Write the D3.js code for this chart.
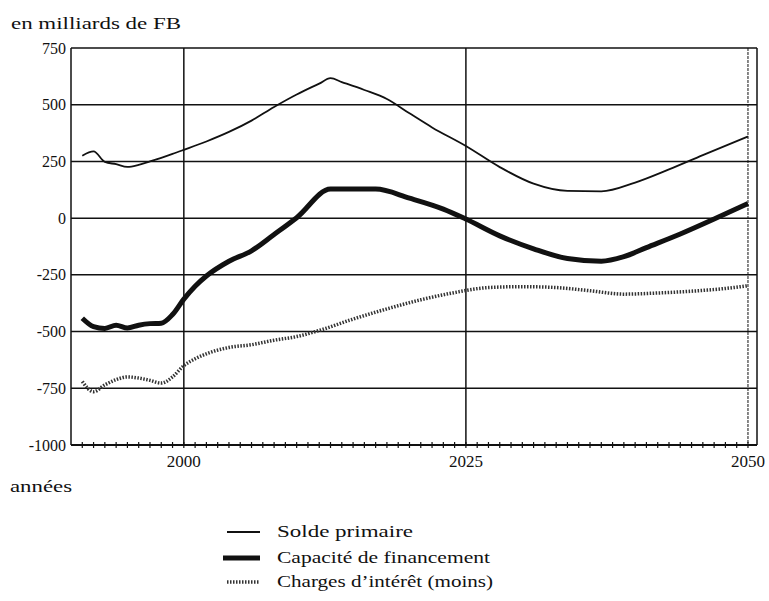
<!DOCTYPE html>
<html><head><meta charset="utf-8">
<script src="https://cdn.jsdelivr.net/npm/d3@7"></script>
<style>body{margin:0;background:#fff}svg{display:block}text{fill:#111}</style>
</head><body>
<script>
const yTicks = [-1000, -750, -500, -250, 0, 250, 500, 750];
const xLabels = [2000, 2025, 2050];
const seriesNames = ["Solde primaire", "Capacité de financement", "Charges d\u2019intérêt (moins)"];

const soldeYears  = [1991,1992,1993,1994,1995,1996,1997,1998,1999,2000,2002,2004,2006,2008,2010,2012,2013,2014,2016,2018,2020,2022,2025,2028,2031,2034,2037,2040,2043,2046,2050];
const soldeValues = [275,294,248,238,226,235,250,266,283,301,338,380,430,490,545,593,617,600,565,525,462,400,318,225,152,120,118,157,215,278,360];

const capYears  = [1991,1992,1993,1994,1995,1996,1997,1998,1999,2000,2001,2002,2004,2006,2008,2010,2013,2017,2020,2023,2025,2028,2031,2034,2037,2039,2041,2044,2047,2050];
const capValues = [-441,-478,-486,-472,-484,-472,-465,-463,-425,-357,-300,-255,-190,-144,-72,2,128,128,88,40,-4,-78,-135,-178,-190,-170,-130,-70,-4,65];

const intYears  = [1991,1992,1993,1994,1995,1996,1997,1998,1999,2000,2001,2002,2004,2006,2008,2010,2012,2015,2018,2021,2024,2027,2030,2033,2036,2039,2042,2045,2048,2050];
const intValues = [-720,-765,-735,-712,-700,-705,-715,-727,-700,-650,-620,-598,-570,-558,-538,-522,-495,-445,-400,-360,-328,-306,-302,-306,-320,-335,-330,-322,-310,-298];

const W = 769, H = 601;
const svg = d3.select("body").append("svg").attr("width", W).attr("height", H)
  .attr("font-family", "'Liberation Serif', 'DejaVu Serif', serif");
const x = d3.scaleLinear().domain([1990, 2050.8]).range([71, 757]);
const y = d3.scaleLinear().domain([-1000, 750]).range([445, 48]);

// horizontal gridlines
svg.append("g").selectAll("line").data(yTicks).join("line")
  .attr("x1", x(1990)).attr("x2", x(2050.8))
  .attr("y1", d => y(d)).attr("y2", d => y(d))
  .attr("stroke", "#111").attr("stroke-width", d => d === -1000 ? 2 : 1.5);
// vertical gridlines
svg.append("g").selectAll("line").data(xLabels).join("line")
  .attr("x1", d => x(d)).attr("x2", d => x(d))
  .attr("y1", y(750)).attr("y2", y(-1000))
  .attr("stroke", "#111").attr("stroke-width", d => d === 2050 ? 1 : 1.5)
  .attr("stroke-dasharray", d => d === 2050 ? "3,1" : null);
// frame left/right
svg.append("line").attr("x1", x(1990)).attr("x2", x(1990)).attr("y1", y(750)).attr("y2", y(-1000)).attr("stroke", "#111").attr("stroke-width", 1.5);
svg.append("line").attr("x1", x(2050.8)).attr("x2", x(2050.8)).attr("y1", y(750)).attr("y2", y(-1000)).attr("stroke", "#111").attr("stroke-width", 1.5);

// y axis labels
svg.append("g").selectAll("text").data(yTicks).join("text")
  .attr("x", 66).attr("y", d => y(d)).attr("dy", "0.35em")
  .attr("text-anchor", "end").attr("font-size", 16).text(d => d);
// x minor ticks
const years = d3.range(1991, 2051);
svg.append("g").selectAll("line").data(years).join("line")
  .attr("x1", d => x(d)).attr("x2", d => x(d))
  .attr("y1", y(-1000) - 3).attr("y2", y(-1000) + 3)
  .attr("stroke", "#111").attr("stroke-width", 1.2);
// x labels
svg.append("g").selectAll("text").data(xLabels).join("text")
  .attr("x", d => x(d)).attr("y", 467)
  .attr("text-anchor", "middle").attr("font-size", 17).text(d => d);

svg.append("text").attr("x", 11).attr("y", 29).attr("font-size", 16)
  .attr("textLength", 170).attr("lengthAdjust", "spacingAndGlyphs").text("en milliards de FB");
svg.append("text").attr("x", 10).attr("y", 492).attr("font-size", 16)
  .attr("textLength", 62).attr("lengthAdjust", "spacingAndGlyphs").text("années");

const line = d3.line().x(d => x(d[0])).y(d => y(d[1])).curve(d3.curveMonotoneX);
const styles = [
  {w: 1.8, dash: null, c: "#111"},
  {w: 5, dash: null, c: "#111"},
  {w: 3.5, dash: "1.5,1.5", c: "#333"}
];
const data = [
  d3.zip(soldeYears, soldeValues),
  d3.zip(capYears, capValues),
  d3.zip(intYears, intValues)
];
data.forEach((d, i) => {
  svg.append("path").datum(d).attr("d", line)
    .attr("fill", "none").attr("stroke", styles[i].c)
    .attr("stroke-width", styles[i].w).attr("stroke-dasharray", styles[i].dash)
    .attr("stroke-linejoin", "round");
});

// legend
const legY = [532, 558, 582];
const legLen = [136, 213, 216];
const lg = svg.append("g");
seriesNames.forEach((n, i) => {
  lg.append("line").attr("x1", i === 1 ? 223 : 227).attr("x2", 260)
    .attr("y1", legY[i]).attr("y2", legY[i])
    .attr("stroke", styles[i].c).attr("stroke-width", styles[i].w)
    .attr("stroke-dasharray", styles[i].dash);
  lg.append("text").attr("x", 277).attr("y", legY[i]).attr("dy", "0.33em")
    .attr("font-size", 16).attr("textLength", legLen[i]).attr("lengthAdjust", "spacingAndGlyphs").text(n);
});
</script>
</body></html>
